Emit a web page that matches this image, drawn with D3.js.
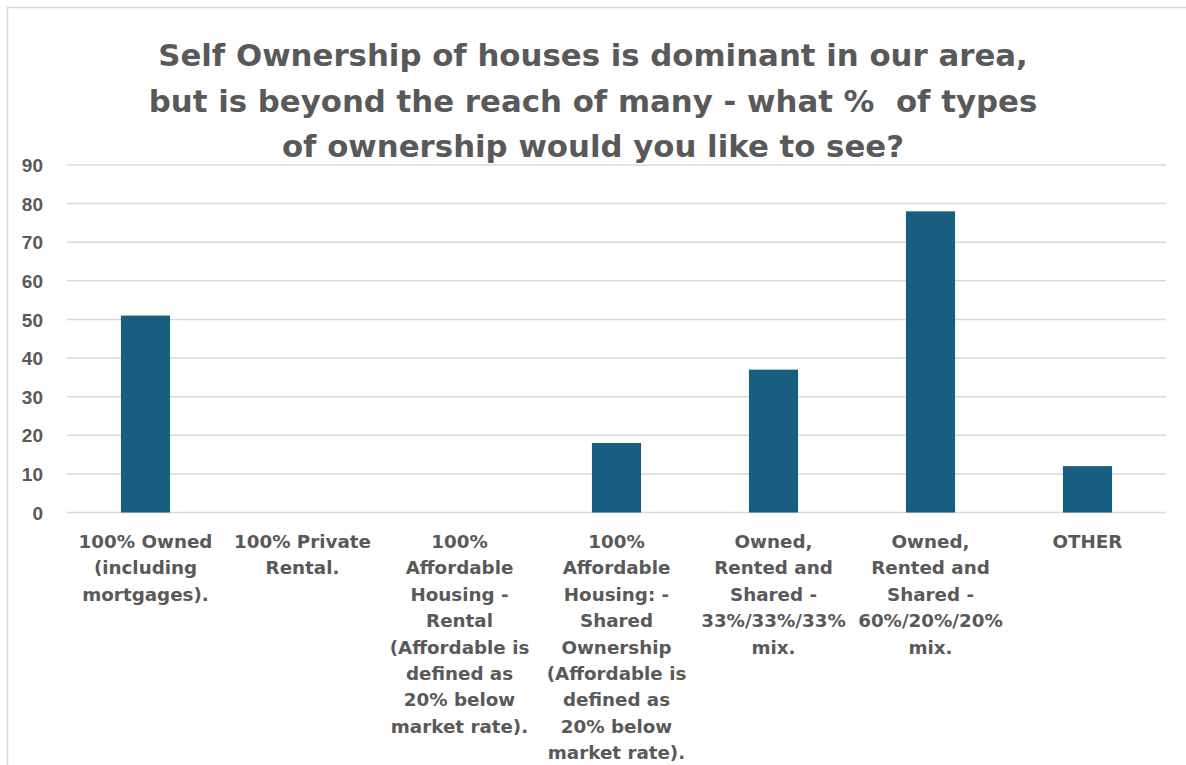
<!DOCTYPE html>
<html>
<head>
<meta charset="utf-8">
<script src="https://cdn.jsdelivr.net/npm/d3@7"></script>
<style>
  html, body { margin: 0; padding: 0; background: #ffffff; }
  svg { display: block; }
</style>
</head>
<body>
<div id="chart"></div>
<script>
// Survey results: preferred mix of housing ownership types
const titleLines = [
  "Self Ownership of houses is dominant in our area,",
  "but is beyond the reach of many - what %  of types",
  "of ownership would you like to see?"
];

const categories = [
  "100% Owned (including mortgages).",
  "100% Private Rental.",
  "100% Affordable Housing - Rental (Affordable is defined as 20% below market rate).",
  "100% Affordable Housing: - Shared Ownership (Affordable is defined as 20% below market rate).",
  "Owned, Rented and Shared - 33%/33%/33% mix.",
  "Owned, Rented and Shared - 60%/20%/20% mix.",
  "OTHER"
];

// Wrapped label lines for each category
const categoryLines = [
  ["100% Owned", "(including", "mortgages)."],
  ["100% Private", "Rental."],
  ["100%", "Affordable", "Housing -", "Rental", "(Affordable is", "defined as", "20% below", "market rate)."],
  ["100%", "Affordable", "Housing: -", "Shared", "Ownership", "(Affordable is", "defined as", "20% below", "market rate)."],
  ["Owned,", "Rented and", "Shared -", "33%/33%/33%", "mix."],
  ["Owned,", "Rented and", "Shared -", "60%/20%/20%", "mix."],
  ["OTHER"]
];

const values = [51, 0, 0, 18, 37, 78, 12];

const yTicks = [0, 10, 20, 30, 40, 50, 60, 70, 80, 90];

const W = 1186, H = 765;
const margin = { left: 67, right: 20, top: 165, bottom: 252 };
const textColor = "#595959";
const barColor = "#175e80";
const gridColor = "#d9d9d9";
const labelFont = "'DejaVu Sans', 'Open Sans', sans-serif";

const svg = d3.select("#chart").append("svg")
  .attr("width", W).attr("height", H);

// Chart area frame
svg.append("rect")
  .attr("x", 7.5).attr("y", 7.5)
  .attr("width", W + 20).attr("height", H + 20)
  .attr("fill", "#ffffff")
  .attr("stroke", gridColor).attr("stroke-width", 1.5);

const x = d3.scaleBand()
  .domain(categories)
  .range([margin.left, 1166])
  .paddingInner(0.687)
  .paddingOuter(0.3435);

const y = d3.scaleLinear()
  .domain([0, 90])
  .range([512.5, 165]);

// Horizontal gridlines
svg.append("g")
  .selectAll("line")
  .data(yTicks)
  .join("line")
  .attr("x1", margin.left).attr("x2", 1166)
  .attr("y1", d => y(d)).attr("y2", d => y(d))
  .attr("stroke", gridColor).attr("stroke-width", 1.5);

// Y axis tick labels
const yAxis = d3.axisLeft(y).tickValues(yTicks).tickSize(0).tickPadding(0);
const yg = svg.append("g")
  .attr("transform", "translate(43,0)")
  .call(yAxis);
yg.select(".domain").remove();
yg.selectAll("text")
  .attr("fill", textColor)
  .attr("font-family", "'Liberation Sans', Arial, sans-serif")
  .attr("font-weight", "bold")
  .attr("font-size", 19)
  .attr("dy", "0.35em");

// Bars
svg.append("g")
  .selectAll("rect")
  .data(values)
  .join("rect")
  .attr("x", (d, i) => x(categories[i]))
  .attr("width", x.bandwidth())
  .attr("y", d => y(d))
  .attr("height", d => y(0) - y(d))
  .attr("fill", barColor);

// Category labels below the axis
const catSize = 18.3;
const catG = svg.append("g");
categories.forEach((c, i) => {
  const cx = x(c) + x.bandwidth() / 2;
  const t = catG.append("text")
    .attr("text-anchor", "middle")
    .attr("fill", textColor)
    .attr("font-family", labelFont)
    .attr("font-weight", "bold")
    .attr("font-size", catSize);
  categoryLines[i].forEach((line, j) => {
    t.append("tspan")
      .attr("x", cx)
      .attr("y", 548 + j * 26.4)
      .text(line);
  });
});

// Title
const titleG = svg.append("g");
const titleBaselines = [66, 112, 157];
titleLines.forEach((line, i) => {
  titleG.append("text")
    .attr("x", 593)
    .attr("y", titleBaselines[i])
    .attr("text-anchor", "middle")
    .attr("fill", textColor)
    .attr("font-family", labelFont)
    .attr("font-weight", "bold")
    .attr("font-size", 30.8)
    .style("white-space", "pre")
    .text(line);
});
</script>
</body>
</html>
